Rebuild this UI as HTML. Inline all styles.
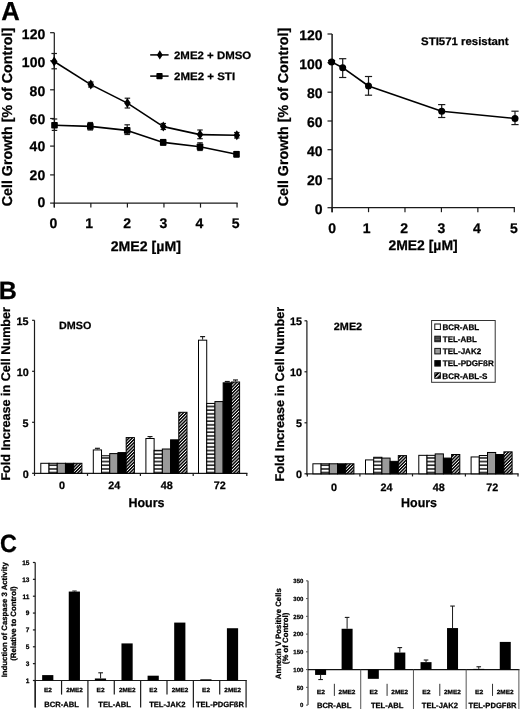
<!DOCTYPE html>
<html><head><meta charset="utf-8"><style>
html,body{margin:0;padding:0;background:#fff;}
svg{display:block;font-family:"Liberation Sans",sans-serif;font-weight:bold;text-rendering:geometricPrecision;will-change:transform;}
</style></head><body>
<svg width="520" height="709" viewBox="0 0 520 709">
<defs>
<pattern id="hs" patternUnits="userSpaceOnUse" width="10" height="3.67">
  <rect width="10" height="3.67" fill="#fff"/><rect y="2.13" width="10" height="1.4" fill="#000"/>
</pattern>
<pattern id="dg" patternUnits="userSpaceOnUse" width="2.3" height="2.3" patternTransform="rotate(45)">
  <rect width="2.3" height="2.3" fill="#fff"/><rect x="0" width="1.45" height="2.3" fill="#000"/>
</pattern>
<pattern id="hs2" patternUnits="userSpaceOnUse" width="10" height="1.8" >
  <rect width="10" height="1.8" fill="#777"/><rect y="0" width="10" height="0.9" fill="#222"/>
</pattern>
<pattern id="dg2" patternUnits="userSpaceOnUse" width="3.4" height="3.4" patternTransform="rotate(45)">
  <rect width="3.4" height="3.4" fill="#000"/><rect x="0" width="1.3" height="3.4" fill="#fff"/>
</pattern>
</defs>
<rect width="520" height="709" fill="#fff"/>
<text x="1.16" y="19.50" font-size="26" textLength="18.54" lengthAdjust="spacingAndGlyphs" fill="#000" stroke="#000" stroke-width="0.25">A</text>
<line x1="54.30" y1="32.70" x2="54.30" y2="207.60" stroke="#1a1a1a" stroke-width="1.2"/>
<line x1="53.70" y1="203.10" x2="237.65" y2="203.10" stroke="#1a1a1a" stroke-width="1.2"/>
<line x1="50.10" y1="203.10" x2="54.30" y2="203.10" stroke="#1a1a1a" stroke-width="1.2"/>
<text x="37.39" y="206.90" font-size="14" fill="#000" stroke="#000" stroke-width="0.25">0</text>
<line x1="50.10" y1="174.90" x2="54.30" y2="174.90" stroke="#1a1a1a" stroke-width="1.2"/>
<text x="29.62" y="180.45" font-size="14" fill="#000" stroke="#000" stroke-width="0.25">20</text>
<line x1="50.10" y1="146.10" x2="54.30" y2="146.10" stroke="#1a1a1a" stroke-width="1.2"/>
<text x="29.62" y="150.55" font-size="14" fill="#000" stroke="#000" stroke-width="0.25">40</text>
<line x1="50.10" y1="118.50" x2="54.30" y2="118.50" stroke="#1a1a1a" stroke-width="1.2"/>
<text x="29.62" y="124.35" font-size="14" fill="#000" stroke="#000" stroke-width="0.25">60</text>
<line x1="50.10" y1="89.80" x2="54.30" y2="89.80" stroke="#1a1a1a" stroke-width="1.2"/>
<text x="29.62" y="95.70" font-size="14" fill="#000" stroke="#000" stroke-width="0.25">80</text>
<line x1="50.10" y1="60.80" x2="54.30" y2="60.80" stroke="#1a1a1a" stroke-width="1.2"/>
<text x="21.85" y="67.00" font-size="14" fill="#000" stroke="#000" stroke-width="0.25">100</text>
<line x1="50.10" y1="32.70" x2="54.30" y2="32.70" stroke="#1a1a1a" stroke-width="1.2"/>
<text x="21.85" y="39.00" font-size="14" fill="#000" stroke="#000" stroke-width="0.25">120</text>
<line x1="54.30" y1="203.10" x2="54.30" y2="207.60" stroke="#1a1a1a" stroke-width="1.2"/>
<text x="49.61" y="228.20" font-size="14" fill="#000" stroke="#000" stroke-width="0.25">0</text>
<line x1="90.85" y1="203.10" x2="90.85" y2="207.60" stroke="#1a1a1a" stroke-width="1.2"/>
<text x="85.32" y="228.20" font-size="14" fill="#000" stroke="#000" stroke-width="0.25">1</text>
<line x1="127.40" y1="203.10" x2="127.40" y2="207.60" stroke="#1a1a1a" stroke-width="1.2"/>
<text x="123.30" y="228.20" font-size="14" fill="#000" stroke="#000" stroke-width="0.25">2</text>
<line x1="163.95" y1="203.10" x2="163.95" y2="207.60" stroke="#1a1a1a" stroke-width="1.2"/>
<text x="159.49" y="228.20" font-size="14" fill="#000" stroke="#000" stroke-width="0.25">3</text>
<line x1="200.50" y1="203.10" x2="200.50" y2="207.60" stroke="#1a1a1a" stroke-width="1.2"/>
<text x="195.54" y="228.20" font-size="14" fill="#000" stroke="#000" stroke-width="0.25">4</text>
<line x1="237.05" y1="203.10" x2="237.05" y2="207.60" stroke="#1a1a1a" stroke-width="1.2"/>
<text x="231.83" y="228.20" font-size="14" fill="#000" stroke="#000" stroke-width="0.25">5</text>
<text x="110.71" y="250.70" font-size="14" textLength="70.18" lengthAdjust="spacingAndGlyphs" fill="#000" stroke="#000" stroke-width="0.25">2ME2 [µM]</text>
<text transform="translate(11.50,206.37) rotate(-90)" font-size="14.3" fill="#000" stroke="#000" stroke-width="0.25">Cell Growth [% of Control]</text>
<line x1="54.20" y1="61.50" x2="90.80" y2="84.60" stroke="#000" stroke-width="1.6"/>
<line x1="90.80" y1="84.60" x2="127.40" y2="103.10" stroke="#000" stroke-width="1.6"/>
<line x1="127.40" y1="103.10" x2="163.30" y2="126.60" stroke="#000" stroke-width="1.6"/>
<line x1="163.30" y1="126.60" x2="200.00" y2="134.60" stroke="#000" stroke-width="1.6"/>
<line x1="200.00" y1="134.60" x2="236.80" y2="135.30" stroke="#000" stroke-width="1.6"/>
<line x1="54.50" y1="125.20" x2="90.30" y2="126.40" stroke="#000" stroke-width="1.6"/>
<line x1="90.30" y1="126.40" x2="127.20" y2="130.40" stroke="#000" stroke-width="1.6"/>
<line x1="127.20" y1="130.40" x2="163.20" y2="142.40" stroke="#000" stroke-width="1.6"/>
<line x1="163.20" y1="142.40" x2="200.00" y2="146.80" stroke="#000" stroke-width="1.6"/>
<line x1="200.00" y1="146.80" x2="236.50" y2="154.30" stroke="#000" stroke-width="1.6"/>
<line x1="54.20" y1="53.50" x2="54.20" y2="68.80" stroke="#1a1a1a" stroke-width="1.2"/>
<line x1="51.45" y1="53.50" x2="56.95" y2="53.50" stroke="#1a1a1a" stroke-width="1.2"/>
<line x1="51.45" y1="68.80" x2="56.95" y2="68.80" stroke="#1a1a1a" stroke-width="1.2"/>
<line x1="90.80" y1="82.00" x2="90.80" y2="87.00" stroke="#1a1a1a" stroke-width="1.2"/>
<line x1="88.05" y1="82.00" x2="93.55" y2="82.00" stroke="#1a1a1a" stroke-width="1.2"/>
<line x1="88.05" y1="87.00" x2="93.55" y2="87.00" stroke="#1a1a1a" stroke-width="1.2"/>
<line x1="127.40" y1="98.20" x2="127.40" y2="108.00" stroke="#1a1a1a" stroke-width="1.2"/>
<line x1="124.65" y1="98.20" x2="130.15" y2="98.20" stroke="#1a1a1a" stroke-width="1.2"/>
<line x1="124.65" y1="108.00" x2="130.15" y2="108.00" stroke="#1a1a1a" stroke-width="1.2"/>
<line x1="163.30" y1="123.50" x2="163.30" y2="129.50" stroke="#1a1a1a" stroke-width="1.2"/>
<line x1="160.55" y1="123.50" x2="166.05" y2="123.50" stroke="#1a1a1a" stroke-width="1.2"/>
<line x1="160.55" y1="129.50" x2="166.05" y2="129.50" stroke="#1a1a1a" stroke-width="1.2"/>
<line x1="200.00" y1="130.00" x2="200.00" y2="138.70" stroke="#1a1a1a" stroke-width="1.2"/>
<line x1="197.25" y1="130.00" x2="202.75" y2="130.00" stroke="#1a1a1a" stroke-width="1.2"/>
<line x1="197.25" y1="138.70" x2="202.75" y2="138.70" stroke="#1a1a1a" stroke-width="1.2"/>
<line x1="236.80" y1="132.50" x2="236.80" y2="138.00" stroke="#1a1a1a" stroke-width="1.2"/>
<line x1="234.05" y1="132.50" x2="239.55" y2="132.50" stroke="#1a1a1a" stroke-width="1.2"/>
<line x1="234.05" y1="138.00" x2="239.55" y2="138.00" stroke="#1a1a1a" stroke-width="1.2"/>
<line x1="54.50" y1="119.00" x2="54.50" y2="130.40" stroke="#1a1a1a" stroke-width="1.2"/>
<line x1="51.75" y1="119.00" x2="57.25" y2="119.00" stroke="#1a1a1a" stroke-width="1.2"/>
<line x1="51.75" y1="130.40" x2="57.25" y2="130.40" stroke="#1a1a1a" stroke-width="1.2"/>
<line x1="90.30" y1="122.50" x2="90.30" y2="130.00" stroke="#1a1a1a" stroke-width="1.2"/>
<line x1="87.55" y1="122.50" x2="93.05" y2="122.50" stroke="#1a1a1a" stroke-width="1.2"/>
<line x1="87.55" y1="130.00" x2="93.05" y2="130.00" stroke="#1a1a1a" stroke-width="1.2"/>
<line x1="127.20" y1="124.80" x2="127.20" y2="134.50" stroke="#1a1a1a" stroke-width="1.2"/>
<line x1="124.45" y1="124.80" x2="129.95" y2="124.80" stroke="#1a1a1a" stroke-width="1.2"/>
<line x1="124.45" y1="134.50" x2="129.95" y2="134.50" stroke="#1a1a1a" stroke-width="1.2"/>
<line x1="163.20" y1="139.50" x2="163.20" y2="145.00" stroke="#1a1a1a" stroke-width="1.2"/>
<line x1="160.45" y1="139.50" x2="165.95" y2="139.50" stroke="#1a1a1a" stroke-width="1.2"/>
<line x1="160.45" y1="145.00" x2="165.95" y2="145.00" stroke="#1a1a1a" stroke-width="1.2"/>
<line x1="200.00" y1="142.80" x2="200.00" y2="150.50" stroke="#1a1a1a" stroke-width="1.2"/>
<line x1="197.25" y1="142.80" x2="202.75" y2="142.80" stroke="#1a1a1a" stroke-width="1.2"/>
<line x1="197.25" y1="150.50" x2="202.75" y2="150.50" stroke="#1a1a1a" stroke-width="1.2"/>
<line x1="236.50" y1="151.50" x2="236.50" y2="157.00" stroke="#1a1a1a" stroke-width="1.2"/>
<line x1="233.75" y1="151.50" x2="239.25" y2="151.50" stroke="#1a1a1a" stroke-width="1.2"/>
<line x1="233.75" y1="157.00" x2="239.25" y2="157.00" stroke="#1a1a1a" stroke-width="1.2"/>
<polygon points="54.20,56.50 57.50,61.50 54.20,66.50 50.90,61.50" fill="#000"/>
<polygon points="90.80,79.60 94.10,84.60 90.80,89.60 87.50,84.60" fill="#000"/>
<polygon points="127.40,98.10 130.70,103.10 127.40,108.10 124.10,103.10" fill="#000"/>
<polygon points="163.30,121.60 166.60,126.60 163.30,131.60 160.00,126.60" fill="#000"/>
<polygon points="200.00,129.60 203.30,134.60 200.00,139.60 196.70,134.60" fill="#000"/>
<polygon points="236.80,130.30 240.10,135.30 236.80,140.30 233.50,135.30" fill="#000"/>
<rect x="51.20" y="121.90" width="6.60" height="6.60" fill="#000" rx="0.8"/>
<rect x="87.00" y="123.10" width="6.60" height="6.60" fill="#000" rx="0.8"/>
<rect x="123.90" y="127.10" width="6.60" height="6.60" fill="#000" rx="0.8"/>
<rect x="159.90" y="139.10" width="6.60" height="6.60" fill="#000" rx="0.8"/>
<rect x="196.70" y="143.50" width="6.60" height="6.60" fill="#000" rx="0.8"/>
<rect x="233.20" y="151.00" width="6.60" height="6.60" fill="#000" rx="0.8"/>
<line x1="150.20" y1="54.90" x2="168.60" y2="54.90" stroke="#000" stroke-width="1.5"/>
<polygon points="159.80,50.30 162.70,54.90 159.80,59.50 156.90,54.90" fill="#000"/>
<text x="174.00" y="58.50" font-size="10.8" textLength="77.23" lengthAdjust="spacingAndGlyphs" fill="#000" stroke="#000" stroke-width="0.25">2ME2 + DMSO</text>
<line x1="150.20" y1="76.10" x2="168.60" y2="76.10" stroke="#000" stroke-width="1.5"/>
<rect x="156.40" y="73.00" width="6.20" height="6.20" fill="#000" rx="0.8"/>
<text x="174.00" y="79.70" font-size="10.8" textLength="61.08" lengthAdjust="spacingAndGlyphs" fill="#000" stroke="#000" stroke-width="0.25">2ME2 + STI</text>
<line x1="332.10" y1="34.00" x2="332.10" y2="212.20" stroke="#1a1a1a" stroke-width="1.5"/>
<line x1="331.50" y1="207.70" x2="514.90" y2="207.70" stroke="#1a1a1a" stroke-width="1.2"/>
<line x1="327.50" y1="207.70" x2="332.10" y2="207.70" stroke="#1a1a1a" stroke-width="1.2"/>
<text x="314.69" y="214.15" font-size="14" fill="#000" stroke="#000" stroke-width="0.25">0</text>
<line x1="327.50" y1="178.80" x2="332.10" y2="178.80" stroke="#1a1a1a" stroke-width="1.2"/>
<text x="306.92" y="184.90" font-size="14" fill="#000" stroke="#000" stroke-width="0.25">20</text>
<line x1="327.50" y1="149.70" x2="332.10" y2="149.70" stroke="#1a1a1a" stroke-width="1.2"/>
<text x="306.92" y="156.00" font-size="14" fill="#000" stroke="#000" stroke-width="0.25">40</text>
<line x1="327.50" y1="121.00" x2="332.10" y2="121.00" stroke="#1a1a1a" stroke-width="1.2"/>
<text x="306.92" y="127.10" font-size="14" fill="#000" stroke="#000" stroke-width="0.25">60</text>
<line x1="327.50" y1="92.20" x2="332.10" y2="92.20" stroke="#1a1a1a" stroke-width="1.2"/>
<text x="306.92" y="97.85" font-size="14" fill="#000" stroke="#000" stroke-width="0.25">80</text>
<line x1="327.50" y1="62.60" x2="332.10" y2="62.60" stroke="#1a1a1a" stroke-width="1.2"/>
<text x="299.15" y="68.65" font-size="14" fill="#000" stroke="#000" stroke-width="0.25">100</text>
<line x1="327.50" y1="34.00" x2="332.10" y2="34.00" stroke="#1a1a1a" stroke-width="1.2"/>
<text x="299.15" y="39.75" font-size="14" fill="#000" stroke="#000" stroke-width="0.25">120</text>
<line x1="332.10" y1="207.70" x2="332.10" y2="212.20" stroke="#1a1a1a" stroke-width="1.2"/>
<text x="328.17" y="232.90" font-size="14" fill="#000" stroke="#000" stroke-width="0.25">0</text>
<line x1="368.54" y1="207.70" x2="368.54" y2="212.20" stroke="#1a1a1a" stroke-width="1.2"/>
<text x="362.87" y="232.90" font-size="14" fill="#000" stroke="#000" stroke-width="0.25">1</text>
<line x1="404.98" y1="207.70" x2="404.98" y2="212.20" stroke="#1a1a1a" stroke-width="1.2"/>
<text x="400.30" y="232.90" font-size="14" fill="#000" stroke="#000" stroke-width="0.25">2</text>
<line x1="441.42" y1="207.70" x2="441.42" y2="212.20" stroke="#1a1a1a" stroke-width="1.2"/>
<text x="437.44" y="232.90" font-size="14" fill="#000" stroke="#000" stroke-width="0.25">3</text>
<line x1="477.86" y1="207.70" x2="477.86" y2="212.20" stroke="#1a1a1a" stroke-width="1.2"/>
<text x="472.94" y="232.90" font-size="14" fill="#000" stroke="#000" stroke-width="0.25">4</text>
<line x1="514.30" y1="207.70" x2="514.30" y2="212.20" stroke="#1a1a1a" stroke-width="1.2"/>
<text x="509.98" y="232.90" font-size="14" fill="#000" stroke="#000" stroke-width="0.25">5</text>
<text x="388.41" y="249.80" font-size="14" textLength="69.26" lengthAdjust="spacingAndGlyphs" fill="#000" stroke="#000" stroke-width="0.25">2ME2 [µM]</text>
<text transform="translate(288.40,206.37) rotate(-90)" font-size="14.3" fill="#000" stroke="#000" stroke-width="0.25">Cell Growth [% of Control]</text>
<text x="421.06" y="44.90" font-size="11" textLength="87.56" lengthAdjust="spacingAndGlyphs" fill="#000" stroke="#000" stroke-width="0.25">STI571 resistant</text>
<line x1="331.60" y1="61.90" x2="342.70" y2="67.70" stroke="#000" stroke-width="1.6"/>
<line x1="342.70" y1="67.70" x2="368.50" y2="86.00" stroke="#000" stroke-width="1.6"/>
<line x1="368.50" y1="86.00" x2="441.70" y2="111.20" stroke="#000" stroke-width="1.6"/>
<line x1="441.70" y1="111.20" x2="515.00" y2="118.50" stroke="#000" stroke-width="1.6"/>
<line x1="331.60" y1="60.50" x2="331.60" y2="63.00" stroke="#1a1a1a" stroke-width="1.2"/>
<line x1="328.00" y1="60.50" x2="335.20" y2="60.50" stroke="#1a1a1a" stroke-width="1.2"/>
<line x1="328.00" y1="63.00" x2="335.20" y2="63.00" stroke="#1a1a1a" stroke-width="1.2"/>
<line x1="342.70" y1="58.70" x2="342.70" y2="77.50" stroke="#1a1a1a" stroke-width="1.2"/>
<line x1="339.10" y1="58.70" x2="346.30" y2="58.70" stroke="#1a1a1a" stroke-width="1.2"/>
<line x1="339.10" y1="77.50" x2="346.30" y2="77.50" stroke="#1a1a1a" stroke-width="1.2"/>
<line x1="368.50" y1="76.50" x2="368.50" y2="95.20" stroke="#1a1a1a" stroke-width="1.2"/>
<line x1="364.90" y1="76.50" x2="372.10" y2="76.50" stroke="#1a1a1a" stroke-width="1.2"/>
<line x1="364.90" y1="95.20" x2="372.10" y2="95.20" stroke="#1a1a1a" stroke-width="1.2"/>
<line x1="441.70" y1="104.60" x2="441.70" y2="117.50" stroke="#1a1a1a" stroke-width="1.2"/>
<line x1="438.10" y1="104.60" x2="445.30" y2="104.60" stroke="#1a1a1a" stroke-width="1.2"/>
<line x1="438.10" y1="117.50" x2="445.30" y2="117.50" stroke="#1a1a1a" stroke-width="1.2"/>
<line x1="515.00" y1="111.20" x2="515.00" y2="124.60" stroke="#1a1a1a" stroke-width="1.2"/>
<line x1="511.40" y1="111.20" x2="518.60" y2="111.20" stroke="#1a1a1a" stroke-width="1.2"/>
<line x1="511.40" y1="124.60" x2="518.60" y2="124.60" stroke="#1a1a1a" stroke-width="1.2"/>
<circle cx="331.60" cy="61.90" r="3.5" fill="#000"/>
<circle cx="342.70" cy="67.70" r="3.5" fill="#000"/>
<circle cx="368.50" cy="86.00" r="3.5" fill="#000"/>
<circle cx="441.70" cy="111.20" r="3.5" fill="#000"/>
<circle cx="515.00" cy="118.50" r="3.5" fill="#000"/>
<text x="-1.33" y="298.60" font-size="25" textLength="18.11" lengthAdjust="spacingAndGlyphs" fill="#000" stroke="#000" stroke-width="0.25">B</text>
<line x1="34.50" y1="320.30" x2="34.50" y2="473.90" stroke="#1a1a1a" stroke-width="1.2"/>
<line x1="32.10" y1="473.30" x2="34.50" y2="473.30" stroke="#1a1a1a" stroke-width="1.2"/>
<text x="22.74" y="477.90" font-size="10.8" fill="#000" stroke="#000" stroke-width="0.25">0</text>
<line x1="32.10" y1="422.30" x2="34.50" y2="422.30" stroke="#1a1a1a" stroke-width="1.2"/>
<text x="22.58" y="426.90" font-size="10.8" fill="#000" stroke="#000" stroke-width="0.25">5</text>
<line x1="32.10" y1="371.30" x2="34.50" y2="371.30" stroke="#1a1a1a" stroke-width="1.2"/>
<text x="16.74" y="375.90" font-size="10.8" fill="#000" stroke="#000" stroke-width="0.25">10</text>
<line x1="32.10" y1="320.30" x2="34.50" y2="320.30" stroke="#1a1a1a" stroke-width="1.2"/>
<text x="16.58" y="324.90" font-size="10.8" fill="#000" stroke="#000" stroke-width="0.25">15</text>
<line x1="33.90" y1="473.30" x2="247.40" y2="473.30" stroke="#1a1a1a" stroke-width="1.2"/>
<line x1="34.50" y1="473.30" x2="34.50" y2="475.90" stroke="#1a1a1a" stroke-width="1.2"/>
<line x1="87.50" y1="473.30" x2="87.50" y2="475.90" stroke="#1a1a1a" stroke-width="1.2"/>
<line x1="140.40" y1="473.30" x2="140.40" y2="475.90" stroke="#1a1a1a" stroke-width="1.2"/>
<line x1="193.20" y1="473.30" x2="193.20" y2="475.90" stroke="#1a1a1a" stroke-width="1.2"/>
<line x1="246.80" y1="473.30" x2="246.80" y2="475.90" stroke="#1a1a1a" stroke-width="1.2"/>
<rect x="40.80" y="463.29" width="8.22" height="10.01" fill="#fff" stroke="#000" stroke-width="1.0"/>
<rect x="49.02" y="463.29" width="8.22" height="10.01" fill="url(#hs)" stroke="#000" stroke-width="1.0"/>
<rect x="57.24" y="463.29" width="8.22" height="10.01" fill="#9a9a9a" stroke="#000" stroke-width="1.0"/>
<rect x="65.46" y="463.29" width="8.22" height="10.01" fill="#000" stroke="#000" stroke-width="1.0"/>
<rect x="73.68" y="463.29" width="8.22" height="10.01" fill="url(#dg)" stroke="#000" stroke-width="1.0"/>
<rect x="93.30" y="449.93" width="8.22" height="23.37" fill="#fff" stroke="#000" stroke-width="1.0"/>
<rect x="101.52" y="455.75" width="8.22" height="17.55" fill="url(#hs)" stroke="#000" stroke-width="1.0"/>
<rect x="109.74" y="453.60" width="8.22" height="19.70" fill="#9a9a9a" stroke="#000" stroke-width="1.0"/>
<rect x="117.96" y="452.58" width="8.22" height="20.72" fill="#000" stroke="#000" stroke-width="1.0"/>
<rect x="126.18" y="437.59" width="8.22" height="35.71" fill="url(#dg)" stroke="#000" stroke-width="1.0"/>
<rect x="145.90" y="438.51" width="8.22" height="34.79" fill="#fff" stroke="#000" stroke-width="1.0"/>
<rect x="154.12" y="450.34" width="8.22" height="22.96" fill="url(#hs)" stroke="#000" stroke-width="1.0"/>
<rect x="162.34" y="449.01" width="8.22" height="24.29" fill="#9a9a9a" stroke="#000" stroke-width="1.0"/>
<rect x="170.56" y="439.83" width="8.22" height="33.47" fill="#000" stroke="#000" stroke-width="1.0"/>
<rect x="178.78" y="412.29" width="8.22" height="61.01" fill="url(#dg)" stroke="#000" stroke-width="1.0"/>
<rect x="198.50" y="340.18" width="8.22" height="133.12" fill="#fff" stroke="#000" stroke-width="1.0"/>
<rect x="206.72" y="403.42" width="8.22" height="69.88" fill="url(#hs)" stroke="#000" stroke-width="1.0"/>
<rect x="214.94" y="401.58" width="8.22" height="71.72" fill="#9a9a9a" stroke="#000" stroke-width="1.0"/>
<rect x="223.16" y="382.82" width="8.22" height="90.48" fill="#000" stroke="#000" stroke-width="1.0"/>
<rect x="231.38" y="382.00" width="8.22" height="91.30" fill="url(#dg)" stroke="#000" stroke-width="1.0"/>
<line x1="97.41" y1="449.43" x2="97.41" y2="448.31" stroke="#1a1a1a" stroke-width="1.0"/>
<line x1="94.91" y1="448.31" x2="99.91" y2="448.31" stroke="#1a1a1a" stroke-width="1.2"/>
<line x1="150.01" y1="438.01" x2="150.01" y2="436.58" stroke="#1a1a1a" stroke-width="1.0"/>
<line x1="147.51" y1="436.58" x2="152.51" y2="436.58" stroke="#1a1a1a" stroke-width="1.2"/>
<line x1="202.61" y1="339.68" x2="202.61" y2="336.62" stroke="#1a1a1a" stroke-width="1.0"/>
<line x1="200.11" y1="336.62" x2="205.11" y2="336.62" stroke="#1a1a1a" stroke-width="1.2"/>
<line x1="235.49" y1="381.50" x2="235.49" y2="379.97" stroke="#1a1a1a" stroke-width="1.0"/>
<line x1="232.99" y1="379.97" x2="237.99" y2="379.97" stroke="#1a1a1a" stroke-width="1.2"/>
<line x1="227.27" y1="382.32" x2="227.27" y2="381.50" stroke="#1a1a1a" stroke-width="1.0"/>
<line x1="224.77" y1="381.50" x2="229.77" y2="381.50" stroke="#1a1a1a" stroke-width="1.2"/>
<text x="58.95" y="488.80" font-size="10.8" fill="#000" stroke="#000" stroke-width="0.25">0</text>
<text x="108.24" y="488.80" font-size="10.8" fill="#000" stroke="#000" stroke-width="0.25">24</text>
<text x="160.74" y="488.80" font-size="10.8" fill="#000" stroke="#000" stroke-width="0.25">48</text>
<text x="213.86" y="488.80" font-size="10.8" fill="#000" stroke="#000" stroke-width="0.25">72</text>
<text x="128.39" y="506.70" font-size="12.8" textLength="36.10" lengthAdjust="spacingAndGlyphs" fill="#000" stroke="#000" stroke-width="0.25">Hours</text>
<text transform="translate(10.10,480.62) rotate(-90)" font-size="12.6" fill="#000" stroke="#000" stroke-width="0.25">Fold Increase in Cell Number</text>
<text x="59.10" y="328.70" font-size="10.5" textLength="32.28" lengthAdjust="spacingAndGlyphs" fill="#000" stroke="#000" stroke-width="0.25">DMSO</text>
<line x1="306.90" y1="320.80" x2="306.90" y2="474.40" stroke="#1a1a1a" stroke-width="1.2"/>
<line x1="304.50" y1="473.80" x2="306.90" y2="473.80" stroke="#1a1a1a" stroke-width="1.2"/>
<text x="296.04" y="478.40" font-size="10.8" fill="#000" stroke="#000" stroke-width="0.25">0</text>
<line x1="304.50" y1="422.80" x2="306.90" y2="422.80" stroke="#1a1a1a" stroke-width="1.2"/>
<text x="295.88" y="427.40" font-size="10.8" fill="#000" stroke="#000" stroke-width="0.25">5</text>
<line x1="304.50" y1="371.80" x2="306.90" y2="371.80" stroke="#1a1a1a" stroke-width="1.2"/>
<text x="290.04" y="376.40" font-size="10.8" fill="#000" stroke="#000" stroke-width="0.25">10</text>
<line x1="304.50" y1="320.80" x2="306.90" y2="320.80" stroke="#1a1a1a" stroke-width="1.2"/>
<text x="289.88" y="325.40" font-size="10.8" fill="#000" stroke="#000" stroke-width="0.25">15</text>
<line x1="306.30" y1="473.80" x2="518.60" y2="473.80" stroke="#1a1a1a" stroke-width="1.2"/>
<line x1="307.30" y1="473.80" x2="307.30" y2="476.40" stroke="#1a1a1a" stroke-width="1.2"/>
<line x1="359.90" y1="473.80" x2="359.90" y2="476.40" stroke="#1a1a1a" stroke-width="1.2"/>
<line x1="412.50" y1="473.80" x2="412.50" y2="476.40" stroke="#1a1a1a" stroke-width="1.2"/>
<line x1="465.40" y1="473.80" x2="465.40" y2="476.40" stroke="#1a1a1a" stroke-width="1.2"/>
<line x1="518.00" y1="473.80" x2="518.00" y2="476.40" stroke="#1a1a1a" stroke-width="1.2"/>
<rect x="312.90" y="463.79" width="8.20" height="10.01" fill="#fff" stroke="#000" stroke-width="1.0"/>
<rect x="321.10" y="463.79" width="8.20" height="10.01" fill="url(#hs)" stroke="#000" stroke-width="1.0"/>
<rect x="329.30" y="463.79" width="8.20" height="10.01" fill="#9a9a9a" stroke="#000" stroke-width="1.0"/>
<rect x="337.50" y="463.79" width="8.20" height="10.01" fill="#000" stroke="#000" stroke-width="1.0"/>
<rect x="345.70" y="463.79" width="8.20" height="10.01" fill="url(#dg)" stroke="#000" stroke-width="1.0"/>
<rect x="365.50" y="459.92" width="8.20" height="13.88" fill="#fff" stroke="#000" stroke-width="1.0"/>
<rect x="373.70" y="457.27" width="8.20" height="16.53" fill="url(#hs)" stroke="#000" stroke-width="1.0"/>
<rect x="381.90" y="458.08" width="8.20" height="15.72" fill="#9a9a9a" stroke="#000" stroke-width="1.0"/>
<rect x="390.10" y="461.35" width="8.20" height="12.45" fill="#000" stroke="#000" stroke-width="1.0"/>
<rect x="398.30" y="455.63" width="8.20" height="18.17" fill="url(#dg)" stroke="#000" stroke-width="1.0"/>
<rect x="418.80" y="455.33" width="8.20" height="18.47" fill="#fff" stroke="#000" stroke-width="1.0"/>
<rect x="427.00" y="455.33" width="8.20" height="18.47" fill="url(#hs)" stroke="#000" stroke-width="1.0"/>
<rect x="435.20" y="453.90" width="8.20" height="19.90" fill="#9a9a9a" stroke="#000" stroke-width="1.0"/>
<rect x="443.40" y="458.08" width="8.20" height="15.72" fill="#000" stroke="#000" stroke-width="1.0"/>
<rect x="451.60" y="454.51" width="8.20" height="19.29" fill="url(#dg)" stroke="#000" stroke-width="1.0"/>
<rect x="471.10" y="456.96" width="8.20" height="16.84" fill="#fff" stroke="#000" stroke-width="1.0"/>
<rect x="479.30" y="455.53" width="8.20" height="18.27" fill="url(#hs)" stroke="#000" stroke-width="1.0"/>
<rect x="487.50" y="452.47" width="8.20" height="21.33" fill="#9a9a9a" stroke="#000" stroke-width="1.0"/>
<rect x="495.70" y="454.51" width="8.20" height="19.29" fill="#000" stroke="#000" stroke-width="1.0"/>
<rect x="503.90" y="451.86" width="8.20" height="21.94" fill="url(#dg)" stroke="#000" stroke-width="1.0"/>
<text x="330.90" y="490.90" font-size="10.8" fill="#000" stroke="#000" stroke-width="0.25">0</text>
<text x="380.59" y="490.90" font-size="10.8" fill="#000" stroke="#000" stroke-width="0.25">24</text>
<text x="432.74" y="490.90" font-size="10.8" fill="#000" stroke="#000" stroke-width="0.25">48</text>
<text x="486.21" y="490.90" font-size="10.8" fill="#000" stroke="#000" stroke-width="0.25">72</text>
<text x="401.09" y="507.30" font-size="12.8" textLength="35.89" lengthAdjust="spacingAndGlyphs" fill="#000" stroke="#000" stroke-width="0.25">Hours</text>
<text transform="translate(283.60,481.62) rotate(-90)" font-size="12.6" textLength="174.83" lengthAdjust="spacingAndGlyphs" fill="#000" stroke="#000" stroke-width="0.25">Fold Increase in Cell Number</text>
<text x="333.82" y="330.20" font-size="10.5" textLength="28.34" lengthAdjust="spacingAndGlyphs" fill="#000" stroke="#000" stroke-width="0.25">2ME2</text>
<rect x="431.60" y="320.50" width="63.60" height="61.80" fill="#fff" stroke="#333" stroke-width="1.0"/>
<rect x="434.80" y="324.00" width="5.60" height="5.50" fill="#fff" stroke="#111" stroke-width="1.0"/>
<text x="442.38" y="329.70" font-size="8.1" textLength="36.77" lengthAdjust="spacingAndGlyphs" fill="#000" stroke="#000" stroke-width="0.25">BCR-ABL</text>
<rect x="434.80" y="336.20" width="5.60" height="5.50" fill="url(#hs2)" stroke="#111" stroke-width="1.0"/>
<text x="442.82" y="341.90" font-size="8.1" textLength="33.93" lengthAdjust="spacingAndGlyphs" fill="#000" stroke="#000" stroke-width="0.25">TEL-ABL</text>
<rect x="434.80" y="348.40" width="5.60" height="5.50" fill="#9a9a9a" stroke="#111" stroke-width="1.0"/>
<text x="442.82" y="354.10" font-size="8.1" textLength="38.33" lengthAdjust="spacingAndGlyphs" fill="#000" stroke="#000" stroke-width="0.25">TEL-JAK2</text>
<rect x="434.80" y="360.60" width="5.60" height="5.50" fill="#000" stroke="#111" stroke-width="1.0"/>
<text x="442.82" y="366.30" font-size="8.1" textLength="50.96" lengthAdjust="spacingAndGlyphs" fill="#000" stroke="#000" stroke-width="0.25">TEL-PDGFßR</text>
<rect x="434.80" y="372.80" width="5.60" height="5.50" fill="url(#dg2)" stroke="#111" stroke-width="1.0"/>
<text x="442.37" y="378.50" font-size="8.1" fill="#000" stroke="#000" stroke-width="0.25">BCR-ABL-S</text>
<text x="0.07" y="552.00" font-size="25" textLength="16.87" lengthAdjust="spacingAndGlyphs" fill="#000" stroke="#000" stroke-width="0.25">C</text>
<line x1="35.20" y1="562.48" x2="35.20" y2="707.60" stroke="#1a1a1a" stroke-width="1.2"/>
<line x1="32.90" y1="680.50" x2="35.20" y2="680.50" stroke="#1a1a1a" stroke-width="1.2"/>
<text x="25.75" y="682.90" font-size="6.5" fill="#000" stroke="#000" stroke-width="0.25">1</text>
<line x1="32.90" y1="663.64" x2="35.20" y2="663.64" stroke="#1a1a1a" stroke-width="1.2"/>
<text x="25.82" y="666.04" font-size="6.5" fill="#000" stroke="#000" stroke-width="0.25">3</text>
<line x1="32.90" y1="646.78" x2="35.20" y2="646.78" stroke="#1a1a1a" stroke-width="1.2"/>
<text x="25.75" y="649.18" font-size="6.5" fill="#000" stroke="#000" stroke-width="0.25">5</text>
<line x1="32.90" y1="629.92" x2="35.20" y2="629.92" stroke="#1a1a1a" stroke-width="1.2"/>
<text x="25.85" y="632.32" font-size="6.5" fill="#000" stroke="#000" stroke-width="0.25">7</text>
<line x1="32.90" y1="613.06" x2="35.20" y2="613.06" stroke="#1a1a1a" stroke-width="1.2"/>
<text x="25.82" y="615.46" font-size="6.5" fill="#000" stroke="#000" stroke-width="0.25">9</text>
<line x1="32.90" y1="596.20" x2="35.20" y2="596.20" stroke="#1a1a1a" stroke-width="1.2"/>
<text x="22.50" y="598.60" font-size="6.5" fill="#000" stroke="#000" stroke-width="0.25">11</text>
<line x1="32.90" y1="579.34" x2="35.20" y2="579.34" stroke="#1a1a1a" stroke-width="1.2"/>
<text x="22.21" y="581.74" font-size="6.5" fill="#000" stroke="#000" stroke-width="0.25">13</text>
<line x1="32.90" y1="562.48" x2="35.20" y2="562.48" stroke="#1a1a1a" stroke-width="1.2"/>
<text x="22.15" y="564.88" font-size="6.5" fill="#000" stroke="#000" stroke-width="0.25">15</text>
<line x1="34.70" y1="680.50" x2="246.80" y2="680.50" stroke="#1a1a1a" stroke-width="1.2"/>
<line x1="35.20" y1="680.50" x2="35.20" y2="707.60" stroke="#1a1a1a" stroke-width="1.2"/>
<line x1="61.56" y1="680.50" x2="61.56" y2="694.60" stroke="#1a1a1a" stroke-width="1.2"/>
<line x1="87.92" y1="680.50" x2="87.92" y2="707.60" stroke="#1a1a1a" stroke-width="1.2"/>
<line x1="114.28" y1="680.50" x2="114.28" y2="694.60" stroke="#1a1a1a" stroke-width="1.2"/>
<line x1="140.64" y1="680.50" x2="140.64" y2="707.60" stroke="#1a1a1a" stroke-width="1.2"/>
<line x1="167.00" y1="680.50" x2="167.00" y2="694.60" stroke="#1a1a1a" stroke-width="1.2"/>
<line x1="193.36" y1="680.50" x2="193.36" y2="707.60" stroke="#1a1a1a" stroke-width="1.2"/>
<line x1="219.72" y1="680.50" x2="219.72" y2="694.60" stroke="#1a1a1a" stroke-width="1.2"/>
<line x1="246.08" y1="680.50" x2="246.08" y2="707.60" stroke="#1a1a1a" stroke-width="1.2"/>
<rect x="42.15" y="675.10" width="11.20" height="5.40" fill="#000"/>
<rect x="68.75" y="591.56" width="11.20" height="88.94" fill="#000"/>
<text x="43.90" y="692.30" font-size="6.0" textLength="8.01" lengthAdjust="spacingAndGlyphs" fill="#000" stroke="#000" stroke-width="0.25">E2</text>
<text x="66.22" y="692.30" font-size="6.0" textLength="16.69" lengthAdjust="spacingAndGlyphs" fill="#000" stroke="#000" stroke-width="0.25">2ME2</text>
<rect x="94.87" y="678.48" width="11.20" height="2.02" fill="#000"/>
<rect x="121.47" y="643.41" width="11.20" height="37.09" fill="#000"/>
<text x="96.62" y="692.30" font-size="6.0" textLength="8.01" lengthAdjust="spacingAndGlyphs" fill="#000" stroke="#000" stroke-width="0.25">E2</text>
<text x="118.94" y="692.30" font-size="6.0" textLength="16.69" lengthAdjust="spacingAndGlyphs" fill="#000" stroke="#000" stroke-width="0.25">2ME2</text>
<rect x="147.59" y="675.69" width="11.20" height="4.81" fill="#000"/>
<rect x="174.19" y="622.59" width="11.20" height="57.91" fill="#000"/>
<text x="149.34" y="692.30" font-size="6.0" textLength="8.01" lengthAdjust="spacingAndGlyphs" fill="#000" stroke="#000" stroke-width="0.25">E2</text>
<text x="171.66" y="692.30" font-size="6.0" textLength="16.69" lengthAdjust="spacingAndGlyphs" fill="#000" stroke="#000" stroke-width="0.25">2ME2</text>
<rect x="200.31" y="679.32" width="11.20" height="1.18" fill="#000"/>
<rect x="226.91" y="628.23" width="11.20" height="52.27" fill="#000"/>
<text x="202.06" y="692.30" font-size="6.0" textLength="8.01" lengthAdjust="spacingAndGlyphs" fill="#000" stroke="#000" stroke-width="0.25">E2</text>
<text x="224.38" y="692.30" font-size="6.0" textLength="16.69" lengthAdjust="spacingAndGlyphs" fill="#000" stroke="#000" stroke-width="0.25">2ME2</text>
<line x1="100.60" y1="678.48" x2="100.60" y2="672.80" stroke="#1a1a1a" stroke-width="1.0"/>
<line x1="98.30" y1="672.80" x2="103.00" y2="672.80" stroke="#1a1a1a" stroke-width="1.1"/>
<line x1="74.50" y1="591.56" x2="74.50" y2="591.00" stroke="#1a1a1a" stroke-width="1.0"/>
<line x1="72.30" y1="591.00" x2="76.70" y2="591.00" stroke="#1a1a1a" stroke-width="1.0"/>
<text x="44.32" y="706.60" font-size="7.6" fill="#000" stroke="#000" stroke-width="0.25">BCR-ABL</text>
<text x="98.31" y="706.60" font-size="7.6" fill="#000" stroke="#000" stroke-width="0.25">TEL-ABL</text>
<text x="149.17" y="706.60" font-size="7.6" fill="#000" stroke="#000" stroke-width="0.25">TEL-JAK2</text>
<text x="195.90" y="706.60" font-size="7.6" fill="#000" stroke="#000" stroke-width="0.25">TEL-PDGFßR</text>
<text transform="translate(7.00,677.31) rotate(-90)" font-size="7.7" textLength="115.04" lengthAdjust="spacingAndGlyphs" fill="#000" stroke="#000" stroke-width="0.25">Induction of Caspase 3 Activity</text>
<text transform="translate(16.40,660.79) rotate(-90)" font-size="7.7" textLength="74.45" lengthAdjust="spacingAndGlyphs" fill="#000" stroke="#000" stroke-width="0.25">(Relative to Control)</text>
<line x1="308.00" y1="580.85" x2="308.00" y2="705.10" stroke="#444" stroke-width="1.2"/>
<line x1="306.00" y1="705.10" x2="308.00" y2="705.10" stroke="#555" stroke-width="1.0"/>
<text x="300.01" y="707.30" font-size="6.0" fill="#000" stroke="#000" stroke-width="0.25">0</text>
<line x1="306.00" y1="687.35" x2="308.00" y2="687.35" stroke="#555" stroke-width="1.0"/>
<text x="296.68" y="689.55" font-size="6.0" fill="#000" stroke="#000" stroke-width="0.25">50</text>
<line x1="306.00" y1="669.60" x2="308.00" y2="669.60" stroke="#555" stroke-width="1.0"/>
<text x="293.35" y="671.80" font-size="6.0" fill="#000" stroke="#000" stroke-width="0.25">100</text>
<line x1="306.00" y1="651.85" x2="308.00" y2="651.85" stroke="#555" stroke-width="1.0"/>
<text x="293.35" y="654.05" font-size="6.0" fill="#000" stroke="#000" stroke-width="0.25">150</text>
<line x1="306.00" y1="634.10" x2="308.00" y2="634.10" stroke="#555" stroke-width="1.0"/>
<text x="293.35" y="636.30" font-size="6.0" fill="#000" stroke="#000" stroke-width="0.25">200</text>
<line x1="306.00" y1="616.35" x2="308.00" y2="616.35" stroke="#555" stroke-width="1.0"/>
<text x="293.35" y="618.55" font-size="6.0" fill="#000" stroke="#000" stroke-width="0.25">250</text>
<line x1="306.00" y1="598.60" x2="308.00" y2="598.60" stroke="#555" stroke-width="1.0"/>
<text x="293.35" y="600.80" font-size="6.0" fill="#000" stroke="#000" stroke-width="0.25">300</text>
<line x1="306.00" y1="580.85" x2="308.00" y2="580.85" stroke="#555" stroke-width="1.0"/>
<text x="293.35" y="583.05" font-size="6.0" fill="#000" stroke="#000" stroke-width="0.25">350</text>
<line x1="308.00" y1="669.60" x2="519.50" y2="669.60" stroke="#111" stroke-width="1.3"/>
<line x1="360.72" y1="669.60" x2="360.72" y2="709.00" stroke="#555" stroke-width="1.0"/>
<line x1="413.44" y1="669.60" x2="413.44" y2="709.00" stroke="#555" stroke-width="1.0"/>
<line x1="466.16" y1="669.60" x2="466.16" y2="709.00" stroke="#555" stroke-width="1.0"/>
<line x1="518.88" y1="669.60" x2="518.88" y2="709.00" stroke="#555" stroke-width="1.0"/>
<line x1="334.36" y1="683.80" x2="334.36" y2="695.90" stroke="#333" stroke-width="1.0"/>
<line x1="387.08" y1="683.80" x2="387.08" y2="695.90" stroke="#333" stroke-width="1.0"/>
<line x1="439.80" y1="683.80" x2="439.80" y2="695.90" stroke="#333" stroke-width="1.0"/>
<line x1="492.52" y1="683.80" x2="492.52" y2="695.90" stroke="#333" stroke-width="1.0"/>
<rect x="315.10" y="669.60" width="11.00" height="5.33" fill="#000"/>
<rect x="341.60" y="628.77" width="11.00" height="40.83" fill="#000"/>
<line x1="320.60" y1="674.93" x2="320.60" y2="679.54" stroke="#1a1a1a" stroke-width="1.0"/>
<line x1="318.30" y1="679.54" x2="322.90" y2="679.54" stroke="#1a1a1a" stroke-width="1.1"/>
<line x1="347.10" y1="628.77" x2="347.10" y2="617.41" stroke="#1a1a1a" stroke-width="1.0"/>
<line x1="344.80" y1="617.41" x2="349.40" y2="617.41" stroke="#1a1a1a" stroke-width="1.1"/>
<text x="316.81" y="694.20" font-size="6.0" textLength="8.34" lengthAdjust="spacingAndGlyphs" fill="#000" stroke="#000" stroke-width="0.25">E2</text>
<text x="338.57" y="694.20" font-size="6.0" textLength="16.90" lengthAdjust="spacingAndGlyphs" fill="#000" stroke="#000" stroke-width="0.25">2ME2</text>
<rect x="367.82" y="669.60" width="11.00" height="9.23" fill="#000"/>
<rect x="394.32" y="652.56" width="11.00" height="17.04" fill="#000"/>
<line x1="399.82" y1="652.56" x2="399.82" y2="647.59" stroke="#1a1a1a" stroke-width="1.0"/>
<line x1="397.52" y1="647.59" x2="402.12" y2="647.59" stroke="#1a1a1a" stroke-width="1.1"/>
<text x="369.53" y="694.20" font-size="6.0" textLength="8.34" lengthAdjust="spacingAndGlyphs" fill="#000" stroke="#000" stroke-width="0.25">E2</text>
<text x="391.29" y="694.20" font-size="6.0" textLength="16.90" lengthAdjust="spacingAndGlyphs" fill="#000" stroke="#000" stroke-width="0.25">2ME2</text>
<rect x="420.54" y="662.14" width="11.00" height="7.46" fill="#000"/>
<rect x="447.04" y="628.07" width="11.00" height="41.53" fill="#000"/>
<line x1="426.04" y1="662.14" x2="426.04" y2="660.01" stroke="#1a1a1a" stroke-width="1.0"/>
<line x1="423.74" y1="660.01" x2="428.34" y2="660.01" stroke="#1a1a1a" stroke-width="1.1"/>
<line x1="452.54" y1="628.07" x2="452.54" y2="606.06" stroke="#1a1a1a" stroke-width="1.0"/>
<line x1="450.24" y1="606.06" x2="454.84" y2="606.06" stroke="#1a1a1a" stroke-width="1.1"/>
<text x="422.25" y="694.20" font-size="6.0" textLength="8.34" lengthAdjust="spacingAndGlyphs" fill="#000" stroke="#000" stroke-width="0.25">E2</text>
<text x="444.01" y="694.20" font-size="6.0" textLength="16.90" lengthAdjust="spacingAndGlyphs" fill="#000" stroke="#000" stroke-width="0.25">2ME2</text>
<rect x="473.26" y="668.89" width="11.00" height="0.71" fill="#000"/>
<rect x="499.76" y="641.91" width="11.00" height="27.69" fill="#000"/>
<line x1="478.76" y1="668.89" x2="478.76" y2="666.76" stroke="#1a1a1a" stroke-width="1.0"/>
<line x1="476.46" y1="666.76" x2="481.06" y2="666.76" stroke="#1a1a1a" stroke-width="1.1"/>
<text x="474.97" y="694.20" font-size="6.0" textLength="8.34" lengthAdjust="spacingAndGlyphs" fill="#000" stroke="#000" stroke-width="0.25">E2</text>
<text x="496.73" y="694.20" font-size="6.0" textLength="16.90" lengthAdjust="spacingAndGlyphs" fill="#000" stroke="#000" stroke-width="0.25">2ME2</text>
<text x="316.92" y="707.90" font-size="7.6" fill="#000" stroke="#000" stroke-width="0.25">BCR-ABL</text>
<text x="370.91" y="707.90" font-size="7.6" fill="#000" stroke="#000" stroke-width="0.25">TEL-ABL</text>
<text x="421.77" y="707.90" font-size="7.6" fill="#000" stroke="#000" stroke-width="0.25">TEL-JAK2</text>
<text x="468.50" y="707.90" font-size="7.6" fill="#000" stroke="#000" stroke-width="0.25">TEL-PDGFßR</text>
<text transform="translate(280.50,679.19) rotate(-90)" font-size="7.75" textLength="91.01" lengthAdjust="spacingAndGlyphs" fill="#000" stroke="#000" stroke-width="0.25">Annexin V Positive Cells</text>
<text transform="translate(287.60,664.19) rotate(-90)" font-size="7.7" textLength="51.58" lengthAdjust="spacingAndGlyphs" fill="#000" stroke="#000" stroke-width="0.25">(% of Control)</text>
</svg>
</body></html>
